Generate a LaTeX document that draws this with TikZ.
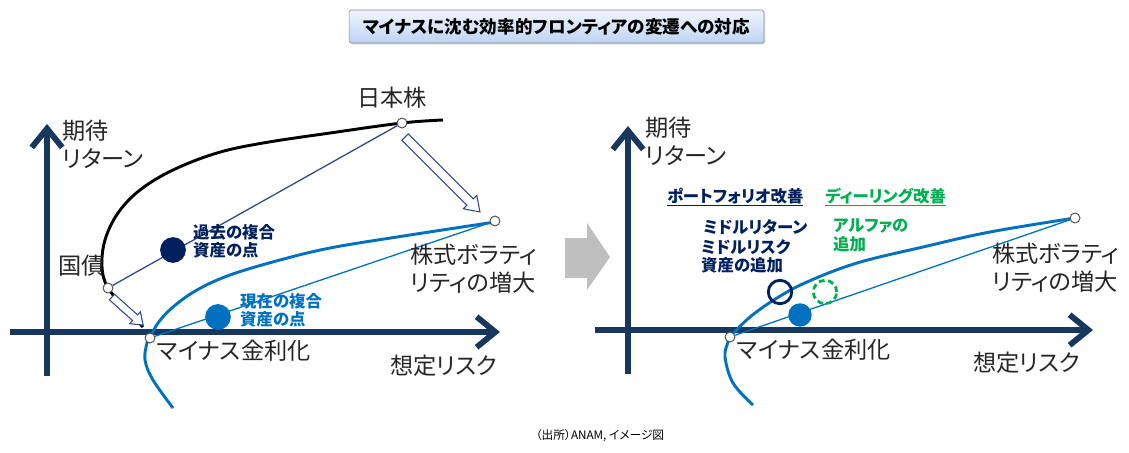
\documentclass[tikz,border=0pt]{standalone}
\usepackage{fontspec}
\setmainfont{Noto Sans CJK JP}[RawFeature=+palt]
\usetikzlibrary{arrows.meta,calc,shadows}
\definecolor{axisnavy}{RGB}{23,55,94}
\definecolor{darknavy}{RGB}{0,32,96}
\definecolor{arrownavy}{RGB}{47,72,140}
\definecolor{midblue}{RGB}{0,112,192}
\definecolor{mygreen}{RGB}{0,176,80}
\definecolor{arrowgray}{RGB}{191,191,191}
\definecolor{titletop}{RGB}{240,245,253}
\definecolor{titlebot}{RGB}{190,212,242}
\tikzset{
  axisline/.style={draw=axisnavy, line width=5pt, -{Straight Barb[length=16pt,width=26pt]}},
  bigtext/.style={font=\fontsize{19.8}{23.8}\selectfont, inner sep=0pt, anchor=west, align=left, text=black!85},
  smalltext/.style={font=\bfseries\fontsize{14}{15.5}\selectfont, inner sep=0pt, anchor=west, align=left},
  ptcircle/.style={circle, draw=black!70, fill=white, line width=0.8pt, minimum size=8.5pt, inner sep=0pt},
  frontier/.style={line width=2.5pt},
  thinline/.style={line width=1.1pt},
  hollowarrow/.style={draw=arrownavy, fill=white, line width=0.9pt, line join=miter},
  dotnode/.style={circle, inner sep=0pt, minimum size=#1},
  titlebox/.style={draw=black!45, line width=0.6pt, rounded corners=1.5pt, top color=titletop, bottom color=titlebot,
    minimum width=354pt, minimum height=28pt, font=\bfseries\fontsize{15}{18}\selectfont,
    drop shadow={shadow xshift=1.2pt, shadow yshift=-1.2pt, opacity=0.35}},
}
\begin{document}
\begin{tikzpicture}[x=0.03cm,y=-0.03cm]
\useasboundingbox (0,0) rectangle (1129,453);

% title
\node[titlebox] (title) at (556.5,26.5) {マイナスに沈む効率的フロンティアの変遷への対応};

% ================= LEFT CHART =================
\coordinate (LxS) at (10,332); \coordinate (LxE) at (500,332);
\coordinate (LyS) at (47,376); \coordinate (LyE) at (47,124);
\draw[axisline] (LxS) -- (LxE);
\draw[axisline] (LyS) -- (LyE);

% black frontier
\draw[frontier, black] plot[smooth, tension=0.6] coordinates {(143,327) (127,310) (108,288) (102,267) (105,240) (118,213) (140,190) (173,170) (217,153) (263,143) (330,133) (402,123) (443,120)};
% blue frontier
\draw[frontier, midblue] plot[smooth, tension=0.6] coordinates {(173,408) (153,380) (145,360) (147,343) (150,338) (158,323) (173,307) (197,290) (230,275) (280,260) (330,248) (397,237) (495,222)};

% points
\node[ptcircle] (Lbond) at (108,288) {};
\node[ptcircle] (Ljp) at (402,123) {};
\node[ptcircle] (Lneg) at (150,338) {};
\node[ptcircle] (Lvol) at (495,221) {};

\draw[thinline, arrownavy] (Lbond) -- (Ljp);
\draw[thinline, midblue] (Lneg) -- (Lvol);

\node[dotnode=22pt, fill=darknavy] (Ldot1) at (173,250) {};
\node[dotnode=22pt, fill=midblue] (Ldot2) at (218,317) {};

% hollow arrows
\coordinate (HA1) at (405,137);
\begin{scope}[shift={(HA1)}, rotate=-45]
\draw[hollowarrow] (0,-4.5) -- (92,-4.5) -- (92,-9.5) -- (106,0) -- (92,9.5) -- (92,4.5) -- (0,4.5) -- cycle;
\end{scope}
\coordinate (HA2) at (112,297);
\begin{scope}[shift={(HA2)}, rotate=-42]
\draw[hollowarrow] (0,-3.8) -- (31,-3.8) -- (31,-8) -- (42,0) -- (31,8) -- (31,3.8) -- (0,3.8) -- cycle;
\end{scope}

% left labels
\node[bigtext] (Lret) at (62,144) {期待\\リターン};
\node[bigtext] (Lbondt) at (58,266) {国債};
\node[bigtext, anchor=center] (Ljpt) at (392,98) {日本株};
\node[bigtext] (Lvolt) at (410,269) {株式ボラティ\\リティの増大};
\node[bigtext] (Lnegt) at (157,351) {マイナス金利化};
\node[bigtext] (Lrisk) at (390,366) {想定リスク};
\node[smalltext, text=darknavy] (Lpast) at (193,241) {過去の複合\\資産の点};
\node[smalltext, text=midblue] (Lnow) at (240,310) {現在の複合\\資産の点};

% middle gray arrow
\fill[arrowgray] (565,238) -- (587,238) -- (587,223) -- (610,257) -- (587,290) -- (587,278) -- (565,278) -- cycle;

% ================= RIGHT CHART =================
\coordinate (RxS) at (595,330); \coordinate (RxE) at (1093,330);
\coordinate (RyS) at (628,374); \coordinate (RyE) at (628,126);
\draw[axisline] (RxS) -- (RxE);
\draw[axisline] (RyS) -- (RyE);

\draw[frontier, midblue] plot[smooth, tension=0.6] coordinates {(753,405) (733,383) (725,357) (728,342) (730,337) (750,317) (777,298) (807,282) (857,263) (923,247) (990,232) (1075,218)};

\node[ptcircle] (Rneg) at (730,337) {};
\node[ptcircle] (Rvol) at (1075,218) {};
\draw[thinline, midblue] (Rneg) -- (Rvol);

\node[dotnode=20pt, fill=midblue] (Rdot) at (800,315) {};
\node[dotnode=20pt, draw=darknavy, line width=2.4pt] (Rring) at (780,292) {};
\node[dotnode=20pt, draw=mygreen, line width=2.4pt, dash pattern=on 5pt off 3pt] (Rgreen) at (825,292) {};

\node[bigtext] (Rret) at (645,141) {期待\\リターン};
\node[bigtext] (Rvolt) at (992,267.5) {株式ボラティ\\リティの増大};
\node[bigtext] (Rnegt) at (737,350) {マイナス金利化};
\node[bigtext] (Rrisk) at (973,363) {想定リスク};

\node[smalltext, text=darknavy] (Rport) at (667,197) {\underline{ポートフォリオ改善}};
\node[smalltext, text=mygreen] (Rdeal) at (825,197) {\underline{ディーリング改善}};
\node[smalltext, text=darknavy] (Rmidret) at (703,227) {ミドルリターン};
\node[smalltext, text=darknavy] (Rmidrisk) at (701,256.5) {ミドルリスク\\資産の追加};
\node[smalltext, text=mygreen] (Ralpha) at (833,235.5) {アルファの\\追加};

% source
\node[font=\fontsize{10}{12}\selectfont, inner sep=0pt] (src) at (600,436) {（出所）ANAM, イメージ図};
\end{tikzpicture}
\end{document}
